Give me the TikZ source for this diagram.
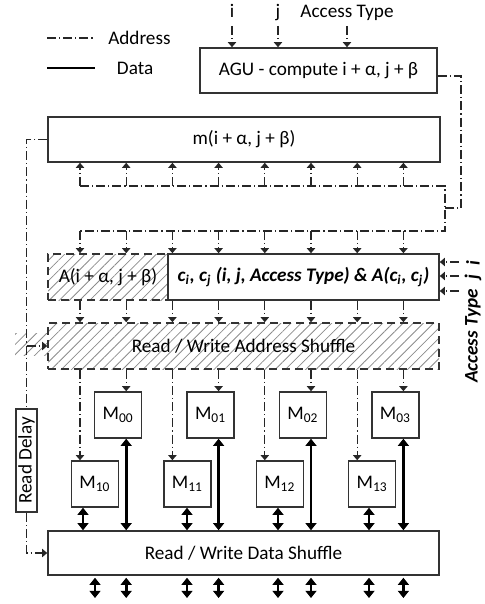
\documentclass[tikz,border=0pt]{standalone}
\usepackage{fontspec}
\setmainfont{Carlito}
\usetikzlibrary{arrows.meta,patterns.meta}

\tikzset{
  box/.style={draw=black!80, line width=0.75pt, fill=white, inner sep=0pt, align=center},
  hatchbox/.style={draw=black!80, line width=0.75pt, dash pattern=on 4pt off 2.5pt, inner sep=0pt,
    pattern={Lines[angle=45,distance=3.6pt,line width=0.4pt]}, pattern color=black!45},
  mem/.style={box, minimum width=23.5pt, minimum height=23pt},
  addr/.style={black!85, line width=0.6pt, dash pattern=on 4.5pt off 1.5pt on 0.6pt off 1.5pt,
    >={Triangle[width=4.2pt,length=2.6pt]}},
  data/.style={black, line width=1.3pt, >={Triangle[width=5.5pt,length=3.6pt]}},
  lbl/.style={inner sep=1pt, anchor=base},
  sidelbl/.style={inner sep=1pt, rotate=90, font=\fontsize{9.6}{11}\selectfont\bfseries\itshape}
}

\begin{document}
\begin{tikzpicture}[x=0.5pt, y=-0.5pt, font=\fontsize{9.6}{11}\selectfont]
  \useasboundingbox (0,0) rectangle (484,604);

  % Legend
  \draw[addr] (47,38) -- (95,38) node[right=3pt, text=black] (lgaddr) {Address};
  \draw[data] (47,68) -- (95,68) node[right=7pt] (lgdata) {Data};

  % AGU and its inputs
  \node[box, minimum width=118.5pt, minimum height=22.5pt] (agu) at (318.5,70.5) {AGU - compute i + α, j + β};
  \node[lbl] (ini) at (232,18) {i};
  \node[lbl] (inj) at (278,18) {j};
  \node[lbl] (inat) at (347,18) {Access Type};
  \foreach \n in {ini,inj,inat}
    \draw[addr,->] (\n.base |- 0,26) -- (\n.base |- agu.north);

  % Module assignment
  \node[box, minimum width=196pt, minimum height=22.5pt] (mbox) at (244,139.5) {m(i + α, j + β)};

  % Address buses
  \def\cols{80,126.2,172.4,218.6,264.8,311,357.2,403.4}
  \coordinate (busup) at (445,186);
  \coordinate (buslo) at (445,231);
  \coordinate (busmid) at (445,208);
  \draw[addr] ([yshift=-2.75pt]agu.east) -| (461,208) -- (busmid);
  \draw[addr] (80,186) -- (busup) -- (buslo) -- (80,231);

  % Address generation row
  \node[hatchbox, minimum width=60pt, minimum height=23pt] (abox) at (108,277) {A(i + α, j + β)};
  \node[box, minimum width=135.5pt, minimum height=23pt, font=\fontsize{9.6}{11}\selectfont\bfseries\itshape] (cbox) at (303.5,277)
    {c\textsubscript{i}, c\textsubscript{j} (i, j, Access Type) \& A(c\textsubscript{i}, c\textsubscript{j})};

  % Address shuffle
  \fill[pattern={Lines[angle=45,distance=3.6pt,line width=0.4pt]}, pattern color=black!45] (15,333) rectangle (48,355);
  \node[hatchbox, minimum width=195.5pt, minimum height=23pt] (ashuf) at (243.5,346) {Read / Write Address Shuffle};

  \foreach \x in \cols {
    \draw[addr,->] (\x,186) -- (\x,186 |- mbox.south);
    \draw[addr,->] (\x,231) -- (\x,231 |- cbox.north);
    \draw[addr,->] (\x,0 |- cbox.south) -- (\x,0 |- ashuf.north);
  }

  % Side inputs
  \foreach \y in {262,276,291}
    \draw[addr,->] (459,\y) -- (cbox.east |- 0,\y);
  \node[sidelbl] (sdi) at (473,263) {i};
  \node[sidelbl] (sdj) at (473,277) {j};
  \node[sidelbl, anchor=east] (sdat) at (473,287) {Access Type};

  % Data shuffle and read delay
  \node[box, minimum width=195.5pt, minimum height=22pt] (dshuf) at (243.5,553) {Read / Write Data Shuffle};
  \node[box, rotate=90, minimum width=51.5pt, minimum height=10.5pt] (rdelay) at (26.5,460.5) {Read Delay};
  \coordinate (tap) at (rdelay.east |- ashuf.west);
  \draw[addr] (mbox.west) -| (rdelay.east);
  \draw[addr,->] (tap) -- (ashuf.west);
  \draw[addr,->] (rdelay.west) |- (dshuf.west);

  % Memory modules
  \foreach \k/\xd in {0/83,1/187,2/278,3/369} {
    \pgfmathsetmacro\xa{126.2+92.4*\k}
    \pgfmathsetmacro\xb{80+92.4*\k}
    \node[mem] (m0\k) at (\xa-8,415) {M\textsubscript{0\k}};
    \node[mem] (m1\k) at (\xb+15,484) {M\textsubscript{1\k}};
    \draw[addr,->] (\xa,0 |- ashuf.south) -- (\xa,0 |- m0\k.north);
    \draw[addr,->] (\xb,0 |- ashuf.south) -- (\xb,0 |- m1\k.north);
    \draw[data,<->] (\xa,0 |- m0\k.south) -- (\xa,0 |- dshuf.north);
    \draw[data,<->] (\xd,0 |- m1\k.south) -- (\xd,0 |- dshuf.north);
  }

  % Data ports
  \foreach \x in {95,126.2,187,218.6,278,311,369,403.4}
    \draw[data,<->] (\x,0 |- dshuf.south) ++(0,2) -- (\x,598);
\end{tikzpicture}
\end{document}
